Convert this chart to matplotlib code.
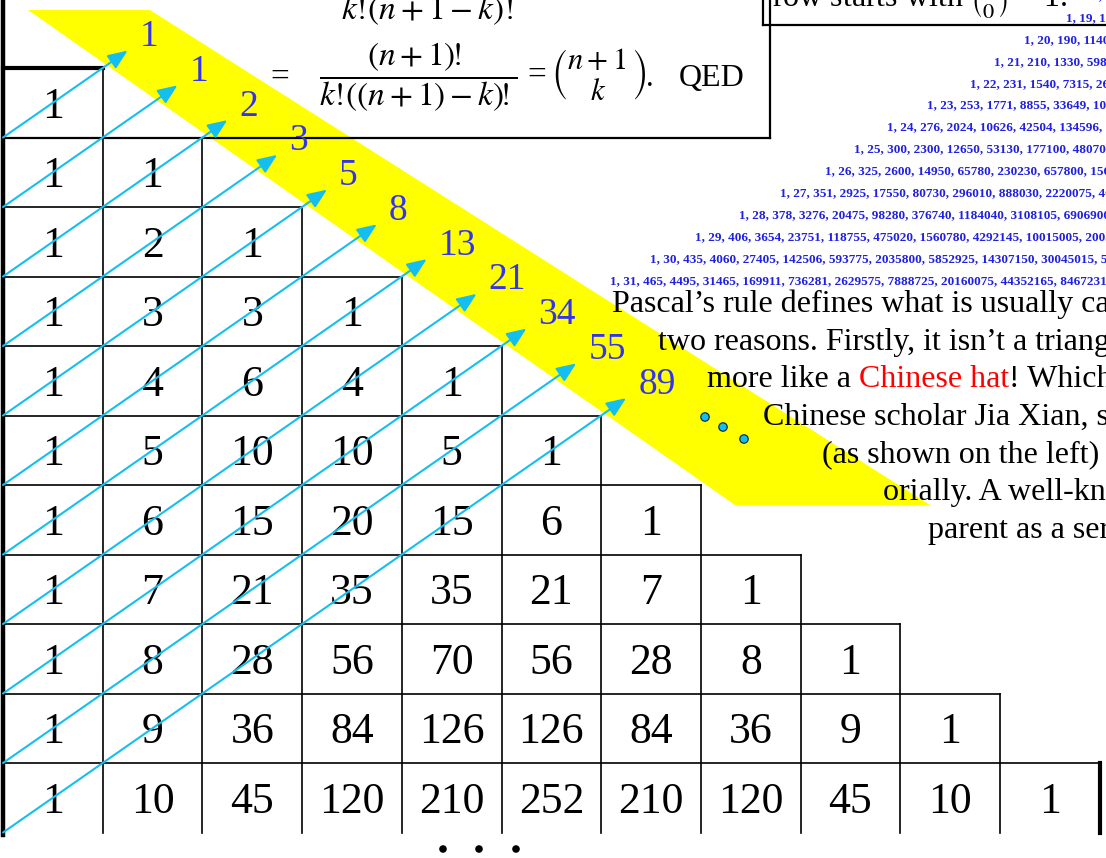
import matplotlib
matplotlib.use("Agg")
import matplotlib.pyplot as plt
from matplotlib.patches import Polygon, FancyArrowPatch, Circle

plt.rcParams["font.family"] = ["Liberation Serif", "DejaVu Serif"]
plt.rcParams["mathtext.fontset"] = "stix"

# Pascal's triangle rows shown in the staircase grid
pascal_rows = [
    [1],
    [1, 1],
    [1, 2, 1],
    [1, 3, 3, 1],
    [1, 4, 6, 4, 1],
    [1, 5, 10, 10, 5, 1],
    [1, 6, 15, 20, 15, 6, 1],
    [1, 7, 21, 35, 35, 21, 7, 1],
    [1, 8, 28, 56, 70, 56, 28, 8, 1],
    [1, 9, 36, 84, 126, 126, 84, 36, 9, 1],
    [1, 10, 45, 120, 210, 252, 210, 120, 45, 10, 1],
]

# sums along the shallow diagonals
fib_values = [1, 1, 2, 3, 5, 8, 13, 21, 34, 55, 89]

# small blue rows (first half up to the middle entry)
small_row_numbers = list(range(18, 32))
small_row_halves = [
    [1, 18, 153, 816, 3060, 8568, 18564, 31824, 43758, 48620],
    [1, 19, 171, 969, 3876, 11628, 27132, 50388, 75582, 92378],
    [1, 20, 190, 1140, 4845, 15504, 38760, 77520, 125970, 167960, 184756],
    [1, 21, 210, 1330, 5985, 20349, 54264, 116280, 203490, 293930, 352716],
    [1, 22, 231, 1540, 7315, 26334, 74613, 170544, 319770, 497420, 646646, 705432],
    [1, 23, 253, 1771, 8855, 33649, 100947, 245157, 490314, 817190, 1144066, 1352078],
    [1, 24, 276, 2024, 10626, 42504, 134596, 346104, 735471, 1307504, 1961256,
     2496144, 2704156],
    [1, 25, 300, 2300, 12650, 53130, 177100, 480700, 1081575, 2042975, 3268760,
     4457400, 5200300],
    [1, 26, 325, 2600, 14950, 65780, 230230, 657800, 1562275, 3124550, 5311735,
     7726160, 9657700, 10400600],
    [1, 27, 351, 2925, 17550, 80730, 296010, 888030, 2220075, 4686825, 8436285,
     13037895, 17383860, 20058300],
    [1, 28, 378, 3276, 20475, 98280, 376740, 1184040, 3108105, 6906900, 13123110,
     21474180, 30421755, 37442160, 40116600],
    [1, 29, 406, 3654, 23751, 118755, 475020, 1560780, 4292145, 10015005, 20030010,
     34597290, 51895935, 67863915, 77558760],
    [1, 30, 435, 4060, 27405, 142506, 593775, 2035800, 5852925, 14307150, 30045015,
     54627300, 86493225, 119759850, 145422675, 155117520],
    [1, 31, 465, 4495, 31465, 169911, 736281, 2629575, 7888725, 20160075, 44352165,
     84672315, 141120525, 206253075, 265182525, 300540195],
]

paragraph_lines = [
    "Pascal\u2019s rule defines what is usually called",
    "two reasons. Firstly, it isn\u2019t a triangle",
    None,  # line with the red phrase, built below
    "Chinese scholar Jia Xian, some",
    "(as shown on the left) so",
    "orially. A well-known",
    "parent as a series",
]
paragraph_starts = [612, 658, 707, 763, 822, 883, 928]

BLUE = "#3434ee"
CYAN = "#14bff0"
PT = 0.72  # points per pixel at dpi 100

# grid geometry in pixels
X0, Y0, CW, CH = 3.0, 68.0, 99.7, 69.5


def gx(c):
    return X0 + c * CW


def gy(r):
    return Y0 + r * CH


def full_row(n, half):
    if n % 2 == 0:
        return half + half[-2::-1]
    return half + half[::-1]


fig = plt.figure(figsize=(11.06, 8.58), dpi=100)
ax = fig.add_axes([0, 0, 1, 1])
ax.set_xlim(0, 1106)
ax.set_ylim(858, 0)
ax.axis("off")

# yellow highlight band
ax.add_patch(Polygon([(28, 10), (150, 10), (930, 505), (735, 505)],
                     closed=True, facecolor="#ffff00", edgecolor="none", zorder=0))

# formula box and top-right box
ax.plot([770, 770], [-5, 138], color="black", lw=1.6, zorder=3)
ax.plot([3, 770], [138, 138], color="black", lw=1.6, zorder=3)
ax.plot([763, 763], [-5, 25], color="black", lw=1.6, zorder=3)
ax.plot([763, 1110], [25, 25], color="black", lw=1.6, zorder=3)

# staircase grid
n_rows = len(pascal_rows)
for r in range(n_rows):
    lw = 3.0 if r == 0 else 1.2
    ax.plot([gx(0), gx(r + 1)], [gy(r), gy(r)], color="black", lw=lw, zorder=3)
for c in range(1, n_rows + 1):
    lw = 3.0 if c == n_rows else 1.2
    ax.plot([gx(c), gx(c)], [gy(c - 1), gy(n_rows)], color="black", lw=lw, zorder=3)
ax.plot([gx(0), gx(0)], [0, gy(n_rows) + 2], color="black", lw=3.2, zorder=3)

for r, row in enumerate(pascal_rows):
    for c, v in enumerate(row):
        ax.text(gx(c + 0.5), gy(r + 0.5) + 15, str(v), ha="center", va="baseline",
                fontsize=31.5, color="black", zorder=4)

# diagonal arrows with their sums
for r, f in enumerate(fib_values):
    start = (gx(0), gy(r + 1))
    tc = 1.25 + 0.5 * r
    tip = (gx(tc), gy(r + 1 - tc))
    ax.add_patch(FancyArrowPatch(start, tip, arrowstyle="-|>,head_length=0.85,head_width=0.35",
                                 mutation_scale=14, lw=1.5, color=CYAN,
                                 shrinkA=0, shrinkB=0, zorder=5))
    ax.annotate(str(f), xy=tip, xytext=(12 * PT, 4.5 * PT), textcoords="offset points",
                ha="left", va="baseline", fontsize=27, color=BLUE, zorder=6)

# ellipsis dots after the arrows
for x, y in [(705, 417), (723, 427), (744, 439)]:
    ax.add_patch(Circle((x, y), 4.2, facecolor=CYAN, edgecolor="#10303c", lw=0.9, zorder=6))
for x in [443, 479, 516]:
    ax.add_patch(Circle((x, 849), 3.8, facecolor="black", edgecolor="none", zorder=6))

# formula
ax.text(427, 19, r"$k!\!(n+1-k)!$", ha="center", va="baseline",
        fontsize=24, zorder=6)
ax.text(280, 77, "=", ha="center", va="center", fontsize=24, zorder=6)
ax.text(418, 77, r"$\dfrac{(n+1)\!!}{k!\!((n+1)-k)\!!}$",
        ha="center", va="center", fontsize=24, zorder=6)
ax.text(537, 76, "=", ha="center", va="center", fontsize=24, zorder=6)
ax.text(599, 75, r"$\genfrac{(}{)}{0}{0}{n+1}{k}$", ha="center", va="center",
        fontsize=22, zorder=6)
ax.text(650, 86, ".", ha="center", va="baseline", fontsize=22, zorder=6)
ax.text(712, 86, "QED", ha="center", va="baseline", fontsize=23, zorder=6)

ax.text(772, 6, r"row starts with $\binom{n}{0}$ = 1.", ha="left", va="baseline",
        fontsize=23, zorder=6)

# small blue rows
for n, half in zip(small_row_numbers, small_row_halves):
    s = ", ".join(str(v) for v in full_row(n, half))
    ax.text(1381, 18 + (n - 19) * 21.9, s, ha="center", va="center", fontsize=9.5,
            fontweight="bold", color="#2020e0", zorder=6)

# paragraph
fig.canvas.draw()
renderer = fig.canvas.get_renderer()
for i, (line, x) in enumerate(zip(paragraph_lines, paragraph_starts)):
    yb = 312 + 37.6 * i
    if line is not None:
        ax.text(x, yb, line, ha="left", va="baseline", fontsize=23, zorder=6)
        continue
    xc = x
    for part, col in [("more like a ", "black"), ("Chinese hat", "red"), ("! Which was", "black")]:
        t = ax.text(xc, yb, part, ha="left", va="baseline", fontsize=23, color=col, zorder=6)
        xc += t.get_window_extent(renderer).width

fig.savefig("out.png", dpi=100)
plt.close(fig)
